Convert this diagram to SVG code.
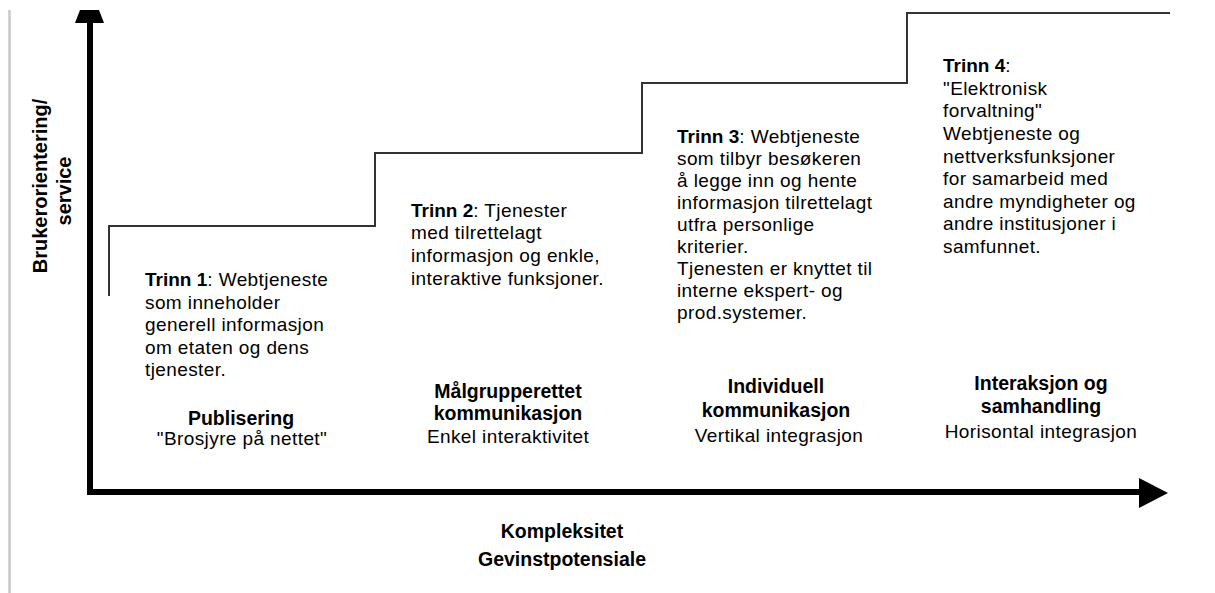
<svg xmlns="http://www.w3.org/2000/svg" width="1215" height="593" viewBox="0 0 1215 593">
<style>
text{font-family:"Liberation Sans",Arial,sans-serif;fill:#000}
.body{font-size:19px;letter-spacing:0.4px}
.b{font-weight:bold;letter-spacing:0}
.lab{font-size:19.5px;font-weight:bold;text-anchor:middle}
.sub{font-size:19px;letter-spacing:0.4px;text-anchor:middle}
.axl{font-size:19.5px;font-weight:bold;text-anchor:middle}
.yl{font-size:20px;font-weight:bold;text-anchor:middle}
.step{fill:none;stroke:#333;stroke-width:2}
.axis{stroke:#000;stroke-width:6;fill:none}
</style>
<rect x="0" y="0" width="1215" height="593" fill="#fff"/>
<line x1="9.5" y1="10" x2="9.5" y2="593" stroke="#c8c8c8" stroke-width="2.5"/>
<g id="connectors">
<line class="axis" x1="90" y1="22" x2="90" y2="495"/>
<line class="axis" x1="87" y1="492" x2="1141" y2="492"/>
<polygon points="80,10 99,10 104,23 75,23" fill="#000"/>
<polygon points="1139,478 1168,493 1139,508" fill="#000"/>
<polyline class="step" points="109,296 109,226 375,226 375,153 642,153 642,83 907,83 907,13 1170,13"/>
</g>
<g id="y-axis-label">
<text class="yl" transform="translate(47,186) rotate(-90)">Brukerorientering/</text>
<text class="yl" transform="translate(71,191) rotate(-90)">service</text>
</g>
<g id="x-axis-label">
<text class="axl" x="562" y="538">Kompleksitet</text>
<text class="axl" x="562" y="566">Gevinstpotensiale</text>
</g>
<g id="trinn1">
<text class="body" x="145" y="286"><tspan class="b">Trinn 1</tspan>: Webtjeneste</text>
<text class="body" x="145" y="309">som inneholder</text>
<text class="body" x="145" y="331">generell informasjon</text>
<text class="body" x="145" y="354">om etaten og dens</text>
<text class="body" x="145" y="376">tjenester.</text>
<text class="lab" x="241" y="425">Publisering</text>
<text class="sub" x="242" y="445">"Brosjyre på nettet"</text>
</g>
<g id="trinn2">
<text class="body" x="411" y="217"><tspan class="b">Trinn 2</tspan>: Tjenester</text>
<text class="body" x="411" y="239">med tilrettelagt</text>
<text class="body" x="411" y="262">informasjon og enkle,</text>
<text class="body" x="411" y="285">interaktive funksjoner.</text>
<text class="lab" x="508" y="398">Målgrupperettet</text>
<text class="lab" x="508" y="420">kommunikasjon</text>
<text class="sub" x="508" y="443">Enkel interaktivitet</text>
</g>
<g id="trinn3">
<text class="body" x="677" y="143"><tspan class="b">Trinn 3</tspan>: Webtjeneste</text>
<text class="body" x="677" y="165">som tilbyr besøkeren</text>
<text class="body" x="677" y="187">å legge inn og hente</text>
<text class="body" x="677" y="209">informasjon tilrettelagt</text>
<text class="body" x="677" y="231">utfra personlige</text>
<text class="body" x="677" y="253">kriterier.</text>
<text class="body" x="677" y="275">Tjenesten er knyttet til</text>
<text class="body" x="677" y="297">interne ekspert- og</text>
<text class="body" x="677" y="319">prod.systemer.</text>
<text class="lab" x="776" y="393">Individuell</text>
<text class="lab" x="776" y="417">kommunikasjon</text>
<text class="sub" x="779" y="442">Vertikal integrasjon</text>
</g>
<g id="trinn4">
<text class="body" x="943" y="72"><tspan class="b">Trinn 4</tspan>:</text>
<text class="body" x="943" y="95">"Elektronisk</text>
<text class="body" x="943" y="117">forvaltning"</text>
<text class="body" x="943" y="140">Webtjeneste og</text>
<text class="body" x="943" y="163">nettverksfunksjoner</text>
<text class="body" x="943" y="185">for samarbeid med</text>
<text class="body" x="943" y="208">andre myndigheter og</text>
<text class="body" x="943" y="230">andre institusjoner i</text>
<text class="body" x="943" y="253">samfunnet.</text>
<text class="lab" x="1041" y="390">Interaksjon og</text>
<text class="lab" x="1041" y="413">samhandling</text>
<text class="sub" x="1041" y="438">Horisontal integrasjon</text>
</g>
</svg>
